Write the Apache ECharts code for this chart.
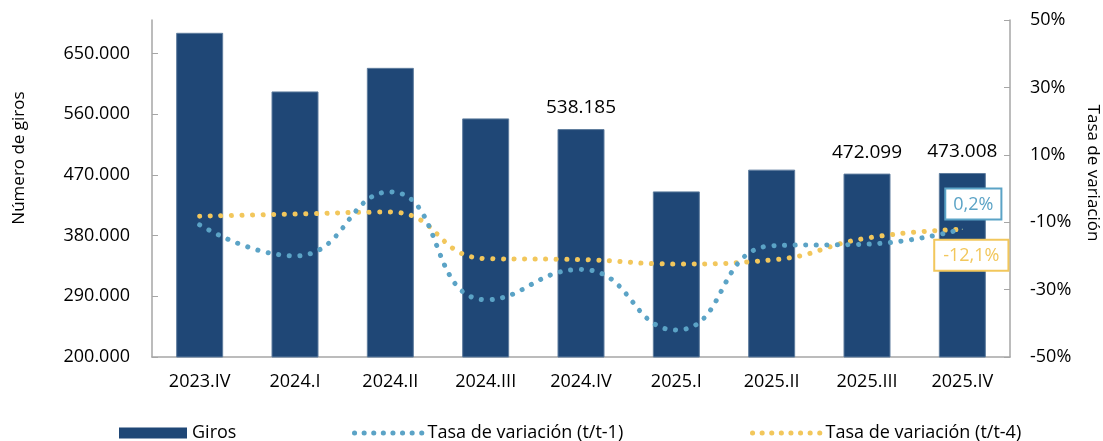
<!DOCTYPE html>
<html>
<head>
<meta charset="utf-8">
<script src="https://cdn.jsdelivr.net/npm/echarts@6/dist/echarts.min.js"></script>
<style>
  html, body { margin: 0; padding: 0; background: #fff; }
  #main { width: 1103px; height: 441px; }
</style>
</head>
<body>
<div id="main"></div>
<script>
// datos
var trimestres = ['2023.IV', '2024.I', '2024.II', '2024.III', '2024.IV', '2025.I', '2025.II', '2025.III', '2025.IV'];
var giros = [681000, 594000, 629000, 554000, 538185, 445700, 478000, 472099, 473008];
var girosConEtiqueta = [4, 7, 8];
var tasaT1 = [-10.8, -20, -1, -33, -24, -42, -17, -16.5, -12];
var tasaT4 = [-8.2, -7.6, -7, -20.8, -21.1, -22.4, -21.2, -14.7, -12.1];
var etiquetaT1 = '0,2%';
var etiquetaT4 = '-12,1%';
var ticksGiros = [200000, 290000, 380000, 470000, 560000, 650000];
var ticksTasa = [-50, -30, -10, 10, 30, 50];

var azul = '#1f4776';
var celeste = '#5ba3c6';
var amarillo = '#f2c75c';
var fuente = 'Open Sans';

function miles(v) {
    return String(v).replace(/\B(?=(\d{3})+(?!\d))/g, '.');
}

window.onload = function () {
    var myChart = echarts.init(document.getElementById('main'));

    var barData = giros.map(function (v, i) {
        var item = { value: v };
        if (girosConEtiqueta.indexOf(i) >= 0) {
            item.label = { show: true };
        }
        return item;
    });

    function lineData(arr, labelText, color, pos, offset, pad) {
        return arr.map(function (v, i) {
            if (i !== arr.length - 1) return v;
            return {
                value: v,
                symbol: 'circle',
                symbolSize: 1,
                label: {
                    show: true,
                    position: pos,
                    distance: 5,
                    offset: offset,
                    formatter: labelText,
                    color: color,
                    fontFamily: fuente,
                    fontSize: 18,
                    backgroundColor: '#fff',
                    borderColor: color,
                    borderWidth: 2,
                    padding: pad
                }
            };
        });
    }

    var axisLine = { show: true, onZero: false, lineStyle: { color: '#a6a6a6', width: 1.5 } };
    var legendText = { fontFamily: fuente, fontSize: 18, color: '#000' };
    var legendDots = { width: 5, type: [0.1, 9.5], cap: 'round' };

    var option = {
        animation: false,
        grid: { left: 152, right: 93, top: 20, bottom: 84 },
        textStyle: { fontFamily: fuente },
        legend: [
            {
                data: [{ name: 'Giros', icon: 'rect' }], left: 119, top: 424, padding: 0,
                itemWidth: 68, itemHeight: 11,
                itemStyle: { borderWidth: 0 },
                textStyle: legendText
            },
            {
                data: ['Tasa de variación (t/t-1)'], left: 352, top: 424, padding: 0,
                itemWidth: 68, itemHeight: 11,
                itemStyle: { opacity: 0 },
                lineStyle: legendDots,
                textStyle: legendText
            },
            {
                data: ['Tasa de variación (t/t-4)'], left: 750, top: 424, padding: 0,
                itemWidth: 68, itemHeight: 11,
                itemStyle: { opacity: 0 },
                lineStyle: legendDots,
                textStyle: legendText
            }
        ],
        xAxis: {
            type: 'category',
            data: trimestres,
            axisLine: axisLine,
            axisTick: { show: false },
            axisLabel: { color: '#000', fontSize: 18, fontFamily: fuente, margin: 16 }
        },
        yAxis: [
            {
                type: 'value',
                min: 200000,
                max: 700000,
                splitLine: { show: false },
                axisLine: axisLine,
                axisTick: { show: true, inside: true, length: 6, customValues: ticksGiros, lineStyle: { color: '#a6a6a6' } },
                axisLabel: {
                    customValues: ticksGiros,
                    color: '#000', fontSize: 18, fontFamily: fuente, margin: 22,
                    formatter: function (v) { return miles(v); }
                }
            },
            {
                type: 'value',
                min: -50,
                max: 50,
                splitLine: { show: false },
                axisLine: axisLine,
                axisTick: { show: true, inside: true, length: 6, customValues: ticksTasa, lineStyle: { color: '#a6a6a6' } },
                axisLabel: {
                    customValues: ticksTasa,
                    color: '#000', fontSize: 18, fontFamily: fuente, margin: 20,
                    formatter: function (v) { return v + '%'; }
                }
            }
        ],
        graphic: [
            {
                type: 'text', x: 19, y: 158, rotation: Math.PI / 2,
                style: { text: 'Número de giros', fill: '#000', font: '17px "Open Sans"', textAlign: 'center', textVerticalAlign: 'middle' }
            },
            {
                type: 'text', x: 1093, y: 173, rotation: -Math.PI / 2,
                style: { text: 'Tasa de variación', fill: '#000', font: '17px "Open Sans"', textAlign: 'center', textVerticalAlign: 'middle' }
            }
        ],
        series: [
            {
                name: 'Giros',
                type: 'bar',
                data: barData,
                barWidth: 47,
                itemStyle: { color: azul, borderColor: '#5f7d9e', borderWidth: 1 },
                label: {
                    show: false,
                    position: 'top',
                    distance: 12,
                    color: '#000',
                    fontSize: 19,
                    fontFamily: fuente,
                    formatter: function (p) { return miles(p.value); }
                }
            },
            {
                name: 'Tasa de variación (t/t-1)',
                type: 'line',
                yAxisIndex: 1,
                smooth: true,
                symbol: 'none',
                data: lineData(tasaT1, etiquetaT1, celeste, 'top', [11, -5], [6, 7, 5, 7]),
                itemStyle: { color: celeste },
                lineStyle: { color: celeste, width: 5, type: [0.1, 10.5], cap: 'round' },
                z: 3
            },
            {
                name: 'Tasa de variación (t/t-4)',
                type: 'line',
                yAxisIndex: 1,
                smooth: true,
                symbol: 'none',
                data: lineData(tasaT4, etiquetaT4, amarillo, 'bottom', [9, 6], [6, 8, 5, 8]),
                itemStyle: { color: amarillo },
                lineStyle: { color: amarillo, width: 5, type: [0.1, 10.5], cap: 'round' },
                z: 2
            }
        ]
    };

    myChart.setOption(option);
};
</script>
</body>
</html>
